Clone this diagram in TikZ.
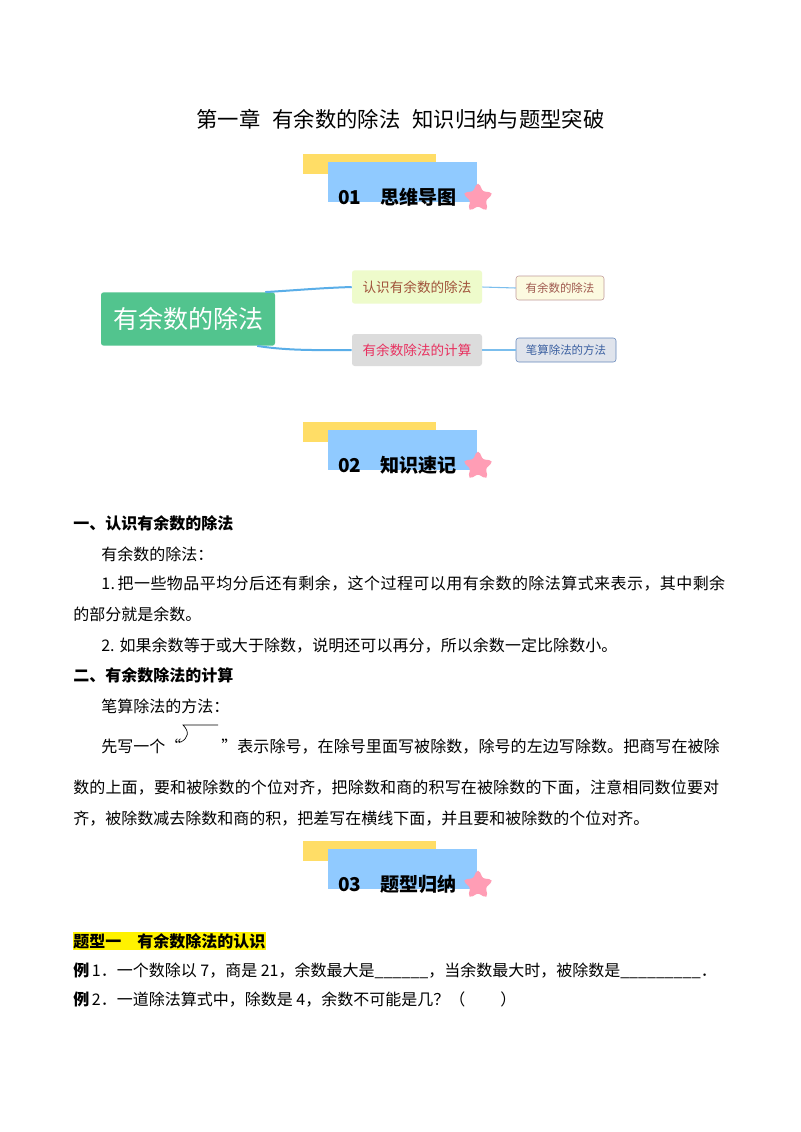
\documentclass[tikz,border=0pt]{standalone}
\usepackage{fontspec}
\usetikzlibrary{shapes,shapes.geometric,positioning,arrows.meta}
\setmainfont{Noto Sans CJK SC}
\definecolor{bannerYellow}{HTML}{FFDD66}
\definecolor{bannerBlue}{HTML}{90CAFF}
\definecolor{starPink}{HTML}{FF9DB5}
\definecolor{rootGreen}{HTML}{52C48E}
\definecolor{linkBlue}{HTML}{5AAEE8}
\definecolor{knowFill}{HTML}{EEFBCB}
\definecolor{knowText}{HTML}{A0523A}
\definecolor{calcFill}{HTML}{DCDCDC}
\definecolor{calcText}{HTML}{E8305F}
\definecolor{leafAFill}{HTML}{FCFAE0}
\definecolor{leafADraw}{HTML}{C09A9A}
\definecolor{leafAText}{HTML}{A05A50}
\definecolor{leafBFill}{HTML}{E0E4EC}
\definecolor{leafBDraw}{HTML}{6688BB}
\definecolor{leafBText}{HTML}{3A5FA0}
\tikzset{
  txt/.style={anchor=base west,inner sep=0pt,font=\fontsize{12}{14}\selectfont,text=black},
  txtb/.style={txt,font=\fontsize{12}{14}\selectfont\bfseries},
  fitline/.style={txt,font=\fontsize{12}{14}\selectfont\addfontfeature{LetterSpace=#1}},
  banner/.style={font=\fontsize{14.3}{16}\selectfont\bfseries,anchor=base west,inner sep=0pt},
  pinkstar/.style={star,star points=5,star point ratio=2.1,fill=starPink,draw=starPink,
    line width=2pt,rounded corners=2pt,minimum size=21pt,inner sep=0pt},
  mapbox/.style={rounded corners=2pt,anchor=center,inner sep=0pt,align=center},
  rootlink/.style={draw=linkBlue,line width=1.5pt},
  leaflink/.style={draw=linkBlue!80,line width=0.8pt},
}
\begin{document}
\begin{tikzpicture}[x=0.75pt,y=-0.75pt]
  \useasboundingbox (0,0) rectangle (800,1132);
  \fill[white] (0,0) rectangle (800,1132);
  % Titulo
  \node[anchor=base,inner sep=0pt,font=\fontsize{16}{18}\selectfont] (title) at (400.5,127) {第一章\hspace{9pt}有余数的除法\hspace{9pt}知识归纳与题型突破};
  % Banner 01
  \fill[bannerYellow] (303,154) rectangle (436,174);
  \fill[bannerBlue] (328,162) rectangle (477,202);
  \node[banner] (numA) at (338,204) {01};
  \node[banner] (headA) at (380,204) {思维导图};
  \node[pinkstar] (starA) at (478,198) {};
  % Mapa mental
  \node[mapbox,fill=rootGreen,text=white,minimum width=130.5pt,minimum height=40pt,font=\fontsize{18.75}{20}\selectfont] (root) at (188,319) {\raisebox{-1pt}{有余数的除法}};
  \node[mapbox,fill=knowFill,text=knowText,minimum width=97.5pt,minimum height=25pt,font=\fontsize{10.2}{12}\selectfont] (know) at (417,287) {\raisebox{-0.7pt}{认识有余数的除法}};
  \node[mapbox,fill=calcFill,text=calcText,minimum width=97.5pt,minimum height=24pt,font=\fontsize{10.2}{12}\selectfont] (calc) at (417,350) {有余数除法的计算};
  \node[mapbox,draw=leafADraw,fill=leafAFill,text=leafAText,minimum width=66pt,minimum height=18pt,font=\fontsize{8.6}{10}\selectfont] (leafA) at (560,288) {有余数的除法};
  \node[mapbox,draw=leafBDraw,fill=leafBFill,text=leafBText,minimum width=75pt,minimum height=18pt,font=\fontsize{8.6}{10}\selectfont] (leafB) at (566,350) {笔算除法的方法};
  \draw[rootlink] (root.north east) ++(-10,0) .. controls (300,290) and (320,288) .. (know.west);
  \draw[rootlink] (root.south east) ++(-18,0) .. controls (290,351) and (320,350) .. (calc.west);
  \draw[leaflink] (know.east) -- (leafA.west);
  \draw[leaflink] (calc.east) -- (leafB.west);
  % Banner 02
  \fill[bannerYellow] (303,422) rectangle (436,442);
  \fill[bannerBlue] (328,430) rectangle (477,470);
  \node[banner] (numB) at (338,472) {02};
  \node[banner] (headB) at (380,472) {知识速记};
  \node[pinkstar] (starB) at (478,466) {};
  % Texto
  \node[txtb] (secA) at (73,529) {一、认识有余数的除法};
  \node[txt] (lineA) at (101,560) {有余数的除法：};
  \node[fitline=2.7] (lineB) at (101,589) {1.\kern2pt 把一些物品平均分后还有剩余，这个过程可以用有余数的除法算式来表示，其中剩余};
  \node[txt] (lineC) at (73,620) {的部分就是余数。};
  \node[fitline=0.4] (lineD) at (101,651) {2. 如果余数等于或大于除数，说明还可以再分，所以余数一定比除数小。};
  \node[txtb] (secB) at (73,681) {二、有余数除法的计算};
  \node[txt] (lineE) at (101,712) {笔算除法的方法：};
  \node[txt] (lineF) at (101,752) {先写一个“};
  \draw[line width=0.5pt] (218,725) -- (183,725) .. controls (190,732) and (188,738) .. (181,742);
  \node[fitline=0.5] (lineG) at (221,752) {”表示除号，在除号里面写被除数，除号的左边写除数。把商写在被除};
  \node[fitline=0.95] (lineH) at (73,793) {数的上面，要和被除数的个位对齐，把除数和商的积写在被除数的下面，注意相同数位要对};
  \node[txt] (lineI) at (73,824) {齐，被除数减去除数和商的积，把差写在横线下面，并且要和被除数的个位对齐。};
  % Banner 03
  \fill[bannerYellow] (303,841) rectangle (436,861);
  \fill[bannerBlue] (328,849) rectangle (477,889);
  \node[banner] (numC) at (338,891) {03};
  \node[banner] (headC) at (380,891) {题型归纳};
  \node[pinkstar] (starC) at (478,885) {};
  % Ejemplos
  \fill[yellow] (73,932) rectangle (266,950);
  \node[txtb] (typeA) at (73,947) {题型一\hspace{1em}有余数除法的认识};
  \node[txt] (exA) at (73,976) {\textbf{例}\kern2pt 1．一个数除以 7，商是 21，余数最大是\_\_\_\_\_\_，当余数最大时，被除数是\_\_\_\_\_\_\_\_\_．};
  \node[txt] (exB) at (73,1005) {\textbf{例}\kern2pt 2．一道除法算式中，除数是 4，余数不可能是几？（\hspace{2.2em}）};
\end{tikzpicture}
\end{document}
